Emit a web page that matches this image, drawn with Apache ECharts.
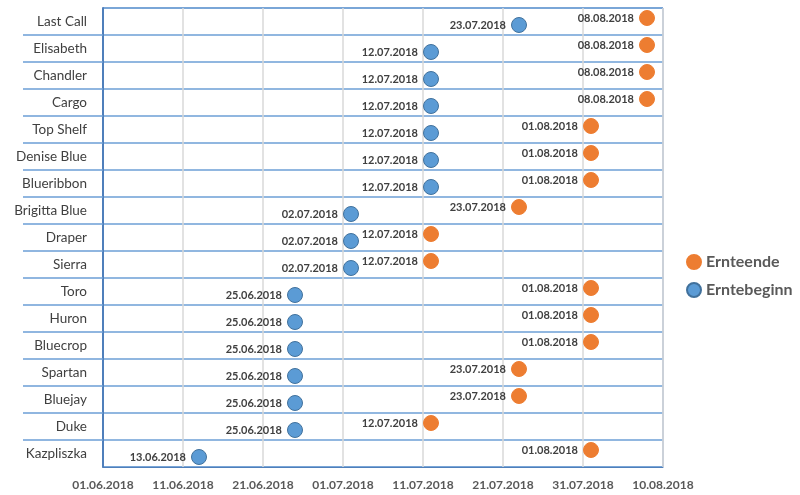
<!DOCTYPE html>
<html>
<head>
<meta charset="utf-8">
<style>
  html, body { margin: 0; padding: 0; background: #ffffff; }
  #chart { width: 800px; height: 495px; }
</style>
<script src="https://cdn.jsdelivr.net/npm/echarts@6/dist/echarts.min.js"></script>
</head>
<body>
<div id="chart"></div>
<script>
// Blueberry varieties, listed top to bottom
const varieties = ['Last Call', 'Elisabeth', 'Chandler', 'Cargo', 'Top Shelf', 'Denise Blue',
  'Blueribbon', 'Brigitta Blue', 'Draper', 'Sierra', 'Toro', 'Huron', 'Bluecrop', 'Spartan',
  'Bluejay', 'Duke', 'Kazpliszka'];

// Start of harvest per variety
const harvestStart = ['23.07.2018', '12.07.2018', '12.07.2018', '12.07.2018', '12.07.2018', '12.07.2018',
  '12.07.2018', '02.07.2018', '02.07.2018', '02.07.2018', '25.06.2018', '25.06.2018', '25.06.2018', '25.06.2018',
  '25.06.2018', '25.06.2018', '13.06.2018'];

// End of harvest per variety
const harvestEnd = ['08.08.2018', '08.08.2018', '08.08.2018', '08.08.2018', '01.08.2018', '01.08.2018',
  '01.08.2018', '23.07.2018', '12.07.2018', '12.07.2018', '01.08.2018', '01.08.2018', '01.08.2018', '23.07.2018',
  '23.07.2018', '12.07.2018', '01.08.2018'];

// Date axis: first tick, last tick, step (days)
const axisStart = '01.06.2018';
const axisEnd = '10.08.2018';
const tickStepDays = 10;

const DAY = 86400000;
function parseDate(s) {
  const [d, m, y] = s.split('.').map(Number);
  return Date.UTC(y, m - 1, d);
}
const base = parseDate(axisStart);
function dayOffset(s) { return Math.round((parseDate(s) - base) / DAY); }
function pad(n) { return (n < 10 ? '0' : '') + n; }
function formatDay(v) {
  const d = new Date(base + v * DAY);
  return pad(d.getUTCDate()) + '.' + pad(d.getUTCMonth() + 1) + '.' + d.getUTCFullYear();
}

const FONT = 'Lato, "Open Sans", sans-serif';
const ROW_LINE = '#6c9fd6';
const BORDER = '#4f7fbb';

const chart = echarts.init(document.getElementById('chart'), null, { renderer: 'canvas' });

function pointLabel(arr) {
  return {
    show: true,
    position: 'left',
    distance: 5,
    fontFamily: FONT,
    fontWeight: 'bold',
    fontSize: 11,
    color: '#404040',
    formatter: p => arr[p.dataIndex]
  };
}

chart.setOption({
  animation: false,
  textStyle: { fontFamily: FONT },
  grid: [
    { left: 103, right: 137, top: 8, bottom: 28, show: true, borderColor: BORDER, borderWidth: 1 },
    // helper grid: row separators extending left across the label column
    { left: 103, right: 137, top: 35, bottom: 55 }
  ],
  xAxis: [
    {
      type: 'value',
      min: dayOffset(axisStart),
      max: dayOffset(axisEnd),
      interval: tickStepDays,
      axisLine: { show: true, lineStyle: { color: BORDER, width: 1 } },
      axisTick: { show: false },
      axisLabel: {
        margin: 12,
        fontFamily: FONT,
        fontWeight: 'bold',
        fontSize: 12,
        color: '#595959',
        formatter: v => formatDay(v)
      },
      splitLine: { show: true, lineStyle: { color: '#d9d9d9', width: 1.5 } }
    },
    { type: 'value', gridIndex: 1, show: false, min: 0, max: 1 }
  ],
  yAxis: [
    {
      type: 'category',
      data: varieties,
      inverse: true,
      boundaryGap: true,
      axisLine: { show: true, lineStyle: { color: BORDER, width: 2 } },
      axisTick: { show: false },
      axisLabel: { margin: 16, fontFamily: FONT, fontSize: 13.5, color: '#404040' },
      splitLine: { show: true, lineStyle: { color: ROW_LINE, width: 1.5 } }
    },
    {
      type: 'value',
      gridIndex: 1,
      min: 1,
      max: varieties.length - 1,
      interval: 1,
      axisLine: { show: false },
      axisLabel: { show: false },
      splitLine: { show: false },
      axisTick: { show: true, length: 80, lineStyle: { color: ROW_LINE, width: 1.5 } }
    }
  ],
  legend: {
    orient: 'vertical',
    left: 681,
    top: 249,
    itemWidth: 14,
    itemHeight: 14,
    itemGap: 12,
    icon: 'circle',
    data: ['Ernteende', 'Erntebeginn'],
    textStyle: { fontFamily: FONT, fontWeight: 'bold', fontSize: 16, color: '#595959' }
  },
  series: [
    {
      name: 'Erntebeginn',
      type: 'scatter',
      symbol: 'circle',
      symbolSize: 15,
      symbolOffset: [0, 3.5],
      itemStyle: { color: '#5b9bd5', borderColor: '#41719c', borderWidth: 1, opacity: 1 },
      label: pointLabel(harvestStart),
      data: harvestStart.map((d, i) => [dayOffset(d), varieties[i]])
    },
    {
      name: 'Ernteende',
      type: 'scatter',
      symbol: 'circle',
      symbolSize: 15,
      symbolOffset: [0, -3.5],
      itemStyle: { color: '#ed7d31', borderColor: '#ed7d31', borderWidth: 1, opacity: 1 },
      label: pointLabel(harvestEnd),
      data: harvestEnd.map((d, i) => [dayOffset(d), varieties[i]])
    }
  ]
});
</script>
</body>
</html>
